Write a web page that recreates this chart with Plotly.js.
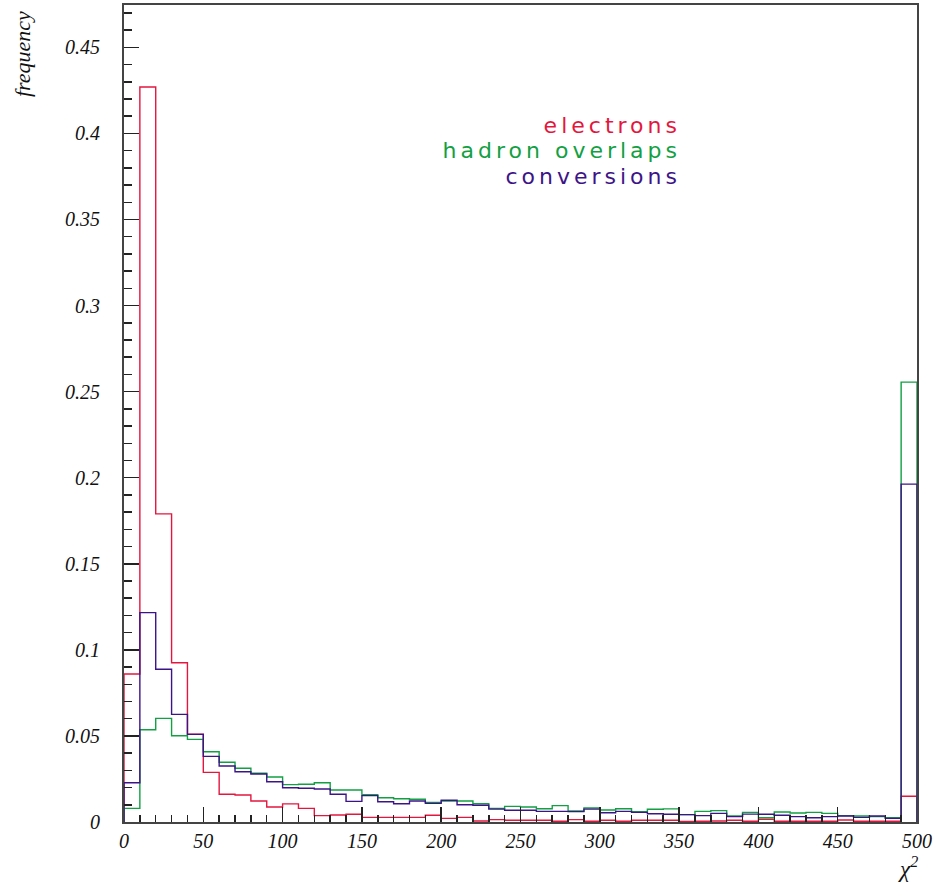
<!DOCTYPE html>
<html>
<head>
<meta charset="utf-8">
<script src="https://cdn.plot.ly/plotly-3.0.1.min.js"></script>
<style>
html,body{margin:0;padding:0;background:#fff;}
</style>
</head>
<body>
<div id="chart" style="width:937px;height:884px;"></div>
<script>
// Histogram: 50 bins of width 10 on chi^2 in [0, 500]
const binLow = 0;
const binWidth = 10;
const electrons = [0.086, 0.427, 0.179, 0.0925, 0.051, 0.0288, 0.0161, 0.0157, 0.0122, 0.0087,
  0.0105, 0.0079, 0.0037, 0.0041, 0.0045, 0.0027, 0.0027, 0.0027, 0.0027, 0.0039,
  0.0021, 0.0027, 0.0006, 0.0014, 0.001, 0.001, 0.001, 0.0004, 0.0014, 0.0004,
  0.001, 0.0004, 0.001, 0.001, 0.001, 0.0003, 0.0004, 0.0006, 0.001, 0.0004,
  0.0016, 0.0004, 0.0004, 0.0004, 0.0004, 0.0012, 0.0004, 0.0004, 0.0004, 0.015];
const hadronOverlaps = [0.0079, 0.0536, 0.0602, 0.0501, 0.048, 0.0408, 0.0347, 0.0312, 0.0283, 0.0261,
  0.0217, 0.0219, 0.0228, 0.0186, 0.0186, 0.0159, 0.0141, 0.0135, 0.0132, 0.0114,
  0.0122, 0.0122, 0.0106, 0.0079, 0.0091, 0.0087, 0.0077, 0.0095, 0.0064, 0.0081,
  0.007, 0.0077, 0.006, 0.0074, 0.0076, 0.0043, 0.0062, 0.0066, 0.0035, 0.0056,
  0.0025, 0.0058, 0.0052, 0.0056, 0.005, 0.0037, 0.0035, 0.0031, 0.0025, 0.2555];
const conversions = [0.0228, 0.1216, 0.0887, 0.0625, 0.0509, 0.0381, 0.0325, 0.0292, 0.0279, 0.0234,
  0.0199, 0.0196, 0.0192, 0.0161, 0.012, 0.0153, 0.0118, 0.0106, 0.0122, 0.0108,
  0.0126, 0.01, 0.0097, 0.0075, 0.0068, 0.0068, 0.0062, 0.0062, 0.006, 0.0075,
  0.0054, 0.0062, 0.0056, 0.0048, 0.0045, 0.0043, 0.0037, 0.005, 0.0031, 0.0046,
  0.0045, 0.0039, 0.0031, 0.0025, 0.0031, 0.0035, 0.0027, 0.0035, 0.0021, 0.1963];
const seriesNames = ["electrons", "hadron overlaps", "conversions"];
const xTickVals = [0, 50, 100, 150, 200, 250, 300, 350, 400, 450, 500];
const xTickText = ["0", "50", "100", "150", "200", "250", "300", "350", "400", "450", "500"];
const yTickVals = [0, 0.05, 0.1, 0.15, 0.2, 0.25, 0.3, 0.35, 0.4, 0.45];
const yTickText = ["0", "0.05", "0.1", "0.15", "0.2", "0.25", "0.3", "0.35", "0.4", "0.45"];

const colors = ["#e3173e", "#12a043", "#3d1488"];

function stepTrace(vals, color, name) {
  const x = [binLow], y = [0];
  vals.forEach((v, i) => { x.push(binLow + i * binWidth); y.push(v); });
  const hi = binLow + vals.length * binWidth;
  x.push(hi); y.push(vals[vals.length - 1]);
  x.push(hi); y.push(0);
  return {x: x, y: y, type: "scatter", mode: "lines", name: name,
    line: {shape: "hv", color: color, width: 1.4}, hoverinfo: "skip", showlegend: false};
}

const data = [
  stepTrace(electrons, colors[0], seriesNames[0]),
  stepTrace(hadronOverlaps, colors[1], seriesNames[1]),
  stepTrace(conversions, colors[2], seriesNames[2])
];

const tickFont = {family: "Liberation Serif", size: 20, style: "italic", color: "#111"};
const legFont = {family: "DejaVu Sans", size: 22};
const legendRightX = 0.6986; // paper x of the right edge of the text block

const layout = {
  width: 937, height: 884,
  margin: {l: 124, r: 20, t: 5, b: 62},
  paper_bgcolor: "#fff", plot_bgcolor: "#fff",
  showlegend: false,
  xaxis: {
    range: [0, 500], tickmode: "array", tickvals: xTickVals, ticktext: xTickText,
    ticks: "inside", ticklen: 15, tickwidth: 1.5, tickcolor: "#222",
    minor: {tick0: 0, dtick: 10, ticks: "inside", ticklen: 7, tickwidth: 1.5, tickcolor: "#222"},
    showgrid: false, zeroline: false, showline: true, linecolor: "#444", linewidth: 2, mirror: true,
    tickfont: tickFont, ticklabelstandoff: 0
  },
  yaxis: {
    range: [0, 0.4746], tickmode: "array", tickvals: yTickVals, ticktext: yTickText,
    ticks: "inside", ticklen: 15, tickwidth: 1.5, tickcolor: "#222",
    minor: {tick0: 0, dtick: 0.01, ticks: "inside", ticklen: 8, tickwidth: 1.5, tickcolor: "#222"},
    showgrid: false, zeroline: false, showline: true, linecolor: "#444", linewidth: 2, mirror: true,
    tickfont: tickFont, ticklabelstandoff: 18
  },
  annotations: [
    {text: seriesNames[0], xref: "paper", yref: "paper", x: legendRightX, y: 0.853, xanchor: "right", yanchor: "middle",
      showarrow: false, font: Object.assign({}, legFont, {color: colors[0]})},
    {text: seriesNames[1], xref: "paper", yref: "paper", x: legendRightX, y: 0.8222, xanchor: "right", yanchor: "middle",
      showarrow: false, font: Object.assign({}, legFont, {color: colors[1]})},
    {text: seriesNames[2], xref: "paper", yref: "paper", x: legendRightX, y: 0.7904, xanchor: "right", yanchor: "middle",
      showarrow: false, font: Object.assign({}, legFont, {color: colors[2]})},
    {text: "frequency", xref: "paper", yref: "paper", x: -0.1286, y: 0.94, xanchor: "center", yanchor: "middle",
      textangle: -90, showarrow: false, font: {family: "Liberation Serif", size: 22, style: "italic", color: "#111"}},
    {text: "χ<sup>2</sup>", xref: "paper", yref: "paper", x: 0.9887, y: -0.0555, xanchor: "center", yanchor: "middle",
      showarrow: false, font: {family: "Liberation Serif", size: 23, style: "italic", color: "#111"}}
  ]
};

Plotly.newPlot("chart", data, layout, {staticPlot: true, displayModeBar: false}).then(function (gd) {
  // widen the legend words (the reference font is widely spaced) and keep them right-aligned
  const xa = gd._fullLayout.xaxis;
  const rootRect = gd.getBoundingClientRect();
  const targetRight = rootRect.left + xa._offset + legendRightX * xa._length + 3;
  [0, 1, 2].forEach(function (i) {
    const g = gd.querySelector(".annotation[data-index='" + i + "']");
    if (!g) return;
    const t = g.querySelector("text");
    if (!t) return;
    t.style.letterSpacing = "4px";
    const r = t.getBoundingClientRect();
    const dx = targetRight - r.right;
    const prev = t.getAttribute("transform") || "";
    t.setAttribute("transform", "translate(" + dx.toFixed(1) + ",0) " + prev);
  });
});
</script>
</body>
</html>
